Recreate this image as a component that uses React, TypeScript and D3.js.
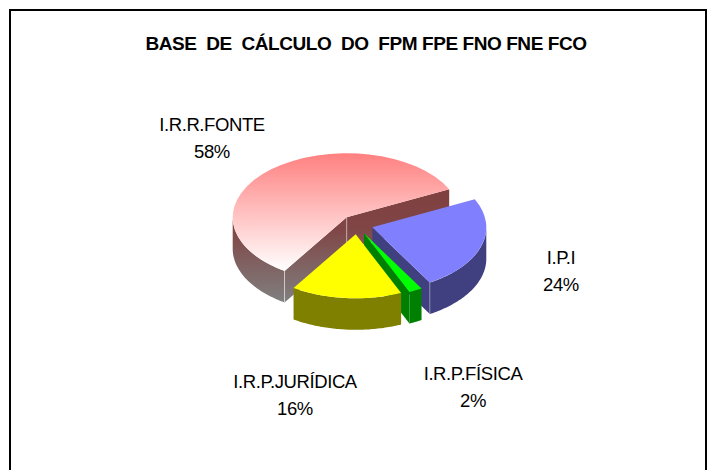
import React from "react";
import * as d3 from "d3";

const categories = ["I.P.I", "I.R.P.FÍSICA", "I.R.P.JURÍDICA", "I.R.R.FONTE"];
const values = [23.8, 1.9, 15.7, 58.6];
const percentLabels = ["24%", "2%", "16%", "58%"];
const topColors = ["#8080ff", "#00ff00", "#ffff00", "url(#redTop)"];
const wallColors = ["#404080", "#008000", "#808000", "url(#redWall)"];
const offsetsX = [25.6, 17.3, 9, 0];
const offsetsY = [10, 16, 17, 0];
const labelX = [561, 473, 295, 212];
const labelY = [264, 380, 388, 131];
const drawOrder = [3, 0, 1, 2];
const title = "BASE  DE  CÁLCULO  DO  FPM FPE FNO FNE FCO";

const cx = 346.7;
const cy = 217.3;
const rx = 114;
const ry = 64;
const depth = 31.5;

export default function App() {
  const start = (64 * Math.PI) / 180;
  const pie = d3.pie<number>().sort(null).startAngle(start).endAngle(start + 2 * Math.PI);
  const arcs = pie(values);
  const arcGen = d3.arc<d3.PieArcDatum<number>>().innerRadius(0).outerRadius(rx);
  const yScale = ry / rx;

  const pt = (a: number): [number, number] => [Math.sin(a) * rx, -Math.cos(a) * ry];
  const line = d3.line<[number, number]>();

  // curved outer wall: only the part facing the viewer (pi/2..3pi/2) shows
  const outerWall = (startA: number, endA: number) => {
    const lo = Math.max(startA, Math.PI / 2);
    const hi = Math.min(endA, (3 * Math.PI) / 2);
    if (hi <= lo) return null;
    const steps = d3.range(0, 61).map((i) => lo + ((hi - lo) * i) / 60);
    const top = steps.map((a) => pt(a));
    const bottom = top.map(([x, y]) => [x, y + depth] as [number, number]).reverse();
    return line([...top, ...bottom]) + "Z";
  };
  const cutPath = (a: number) => {
    const [x, y] = pt(a);
    return line([[0, 0], [x, y], [x, y + depth], [0, depth]]) + "Z";
  };
  const edge = (a: number, op: number) => {
    const [x, y] = pt(a);
    return <line x1={x} x2={x} y1={y} y2={y + depth} stroke="#fff" strokeOpacity={op} />;
  };

  return (
    <svg
      width={713}
      height={470}
      style={{ position: "absolute", left: 0, top: 0, background: "#fff" }}
      fontFamily="'Liberation Sans', Arial, sans-serif"
    >
      <defs>
        <linearGradient id="redTop" x1={0} x2={0} y1={0} y2={1}>
          <stop offset="0" stopColor="#ff8080" />
          <stop offset="1" stopColor="#ffffff" />
        </linearGradient>
        <linearGradient id="redWall" gradientUnits="userSpaceOnUse" x1={0} x2={0} y1={-22} y2={86}>
          <stop offset="0" stopColor="#804040" />
          <stop offset="0.3" stopColor="#804545" />
          <stop offset="1" stopColor="#808080" />
        </linearGradient>
      </defs>
      <path d="M10,471V10H706V471" fill="none" stroke="#000" strokeWidth={2} />
      <text x={366} y={50} textAnchor="middle" fontSize={19} fontWeight="bold" letterSpacing={-0.43} style={{ whiteSpace: "pre" }}>
        {title}
      </text>

      {drawOrder.map((i) => {
        const d = arcs[i];
        const isRed = i === 3;
        const isYellow = i === 2;
        const wall = outerWall(d.startAngle, d.endAngle);
        return (
          <g key={categories[i]} transform={`translate(${cx + offsetsX[i]},${cy + offsetsY[i]})`}>
            {isRed && <path d={cutPath(d.endAngle)} fill={wallColors[i]} />}
            {isRed && <path d={cutPath(d.startAngle)} fill={wallColors[i]} />}
            {!isRed && !isYellow && <path d={cutPath(d.endAngle)} fill={wallColors[i]} />}
            {wall && <path d={wall} fill={wallColors[i]} />}
            <path d={arcGen(d) ?? ""} transform={`scale(1,${yScale})`} fill={topColors[i]} />
            {isRed && edge(d.startAngle, 0.5)}
            {isRed && <line x1={0} x2={0} y1={0} y2={depth} stroke="#fff" strokeOpacity={0.4} />}
            {i === 0 && edge(d.endAngle, 0.35)}
          </g>
        );
      })}

      {categories.map((c, i) => (
        <text key={c} textAnchor="middle" fontSize={18.5} letterSpacing={-0.4} fill="#000">
          <tspan x={labelX[i]} y={labelY[i]}>{c}</tspan>
          <tspan x={labelX[i]} y={labelY[i] + 26.5}>{percentLabels[i]}</tspan>
        </text>
      ))}
    </svg>
  );
}
